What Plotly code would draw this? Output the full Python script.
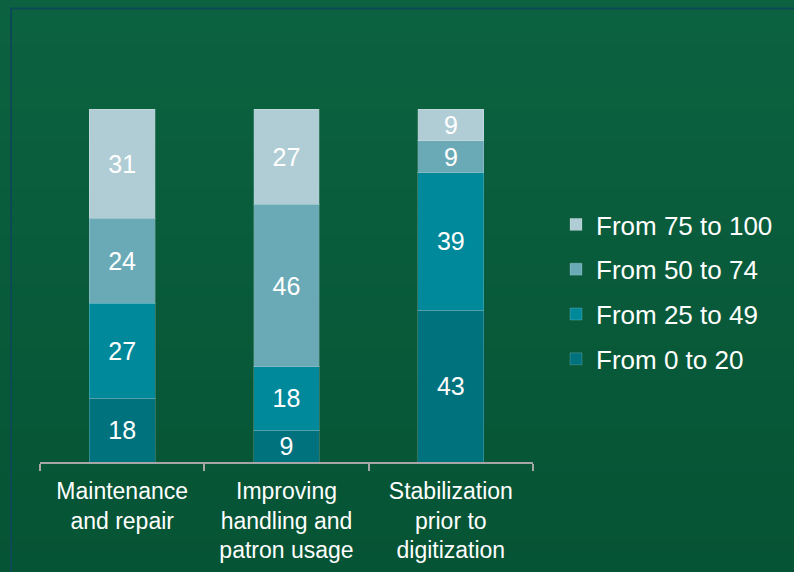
"""
Stacked 100% bar chart: share of respondents by range, per preservation activity
"""

import plotly.graph_objects as go

categories = [
    "Maintenance<br>and repair",
    "Improving<br>handling and<br>patron usage",
    "Stabilization<br>prior to<br>digitization",
]

# bottom to top of each stack
series_names = ["From 0 to 20", "From 25 to 49", "From 50 to 74", "From 75 to 100"]
from_0_to_20 = [18, 9, 43]
from_25_to_49 = [27, 18, 39]
from_50_to_74 = [24, 46, 9]
from_75_to_100 = [31, 27, 9]

series_values = [from_0_to_20, from_25_to_49, from_50_to_74, from_75_to_100]
series_colors = ["#00727e", "#00899a", "#6aaab6", "#b0cdd5"]

FONT = "Liberation Sans, Arial, sans-serif"

fig = go.Figure()
for i, (name, vals, color) in enumerate(zip(series_names, series_values, series_colors)):
    fig.add_trace(go.Bar(
        x=categories, y=vals, name=name,
        marker=dict(color=color, line=dict(color="rgba(255,255,255,0.18)", width=1)),
        text=vals, textposition="inside", insidetextanchor="middle",
        textangle=0, constraintext="none",
        textfont=dict(color="white", size=25, family=FONT),
        legendgroup=name, legendrank=len(series_names) - i,
    ))

# soft vertical gradient for the background
top_rgb = (12, 99, 65)
bot_rgb = (5, 83, 52)
n_bands = 40
for i in range(n_bands):
    t = i / (n_bands - 1)
    r = round(top_rgb[0] + (bot_rgb[0] - top_rgb[0]) * t)
    g = round(top_rgb[1] + (bot_rgb[1] - top_rgb[1]) * t)
    b = round(top_rgb[2] + (bot_rgb[2] - top_rgb[2]) * t)
    fig.add_shape(
        type="rect", xref="paper", yref="paper", layer="below",
        x0=-0.2, x1=1.7,
        y0=1.4 - (i + 1) * 1.8 / n_bands, y1=1.4 - i * 1.8 / n_bands + 0.005,
        fillcolor=f"rgb({r},{g},{b})", line_width=0,
    )

# frame line (runs off the right and bottom edges)
fig.add_shape(
    type="rect", xref="paper", yref="paper",
    x0=(11 - 40) / 493, x1=1.7, y0=-0.6, y1=1 + (109 - 8.5) / 353,
    line=dict(color="#0b4a55", width=2), fillcolor="rgba(0,0,0,0)", layer="below",
)

fig.update_layout(
    width=794, height=572,
    barmode="stack",
    bargap=0.6,
    paper_bgcolor="#095c3b",
    plot_bgcolor="rgba(0,0,0,0)",
    margin=dict(l=40, r=261, t=109, b=110),
    font=dict(family=FONT, color="white"),
    showlegend=True,
    legend=dict(
        xref="container", yref="container",
        x=556 / 794, y=1 - 292 / 572,
        xanchor="left", yanchor="middle",
        traceorder="grouped", tracegroupgap=8,
        font=dict(size=26, color="white", family=FONT),
        bgcolor="rgba(0,0,0,0)",
        itemwidth=30,
    ),
    xaxis=dict(
        showline=True, linecolor="#a6a6a6", linewidth=2,
        ticks="outside", tickson="boundaries", ticklen=7, tickcolor="#a6a6a6", tickwidth=2,
        tickfont=dict(size=23, color="white", family=FONT),
        ticklabelstandoff=7, automargin=False,
        showgrid=False, zeroline=False,
    ),
    yaxis=dict(range=[0, 100], visible=False, showgrid=False),
)

# page has a default body margin; drop it so the figure fills the window
fig.write_html(
    "out.html",
    config={"displayModeBar": False},
    post_script="document.body.style.margin='0';",
)
